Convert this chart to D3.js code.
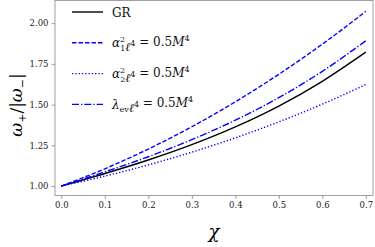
<!DOCTYPE html>
<html>
<head>
<meta charset="utf-8">
<script src="https://cdn.jsdelivr.net/npm/d3@7"></script>
<style>
  html, body { margin: 0; padding: 0; background: #fff; }
  svg { display: block; font-family: "DejaVu Serif", "Liberation Serif", serif; }
</style>
</head>
<body>
<svg id="chart" width="375" height="247"></svg>
<script>
// spin values
const chi = [0, 0.1, 0.2, 0.3, 0.4, 0.5, 0.6, 0.7];
const grVals = [1.0, 1.077, 1.160, 1.254, 1.363, 1.491, 1.643, 1.822];
const alpha1Vals = [1.0, 1.106, 1.227, 1.364, 1.517, 1.686, 1.871, 2.072];
const alpha2Vals = [1.0, 1.061, 1.130, 1.208, 1.296, 1.394, 1.503, 1.623];
const lambdaVals = [1.0, 1.087, 1.180, 1.285, 1.404, 1.543, 1.704, 1.892];
const xTicks = [0, 0.1, 0.2, 0.3, 0.4, 0.5, 0.6, 0.7];
const yTicks = [1.0, 1.25, 1.5, 1.75, 2.0];

const series = [
  { key: 'gr', vals: grVals, color: '#000', dash: null },
  { key: 'a1', vals: alpha1Vals, color: '#0000ff', dash: '4.5,2' },
  { key: 'a2', vals: alpha2Vals, color: '#0000ff', dash: '1.3,2' },
  { key: 'lam', vals: lambdaVals, color: '#0000ff', dash: '7,2,1.3,2' }
];

const svg = d3.select('#chart');
const margin = { left: 55, right: 2, top: 0.5, bottom: 51.5 };
const W = 375, H = 247;

const x = d3.scaleLinear().domain([-0.0145, 0.7165]).range([margin.left, W - margin.right]);
const y = d3.scaleLinear().domain([0.942, 2.139]).range([H - margin.bottom, margin.top]);

// frame
svg.append('rect')
  .attr('x', margin.left).attr('y', margin.top)
  .attr('width', W - margin.right - margin.left)
  .attr('height', H - margin.bottom - margin.top)
  .attr('fill', 'none').attr('stroke', '#888').attr('stroke-width', 0.8);

// axes
const xAxis = svg.append('g')
  .attr('transform', `translate(0,${H - margin.bottom})`)
  .call(d3.axisBottom(x).tickValues(xTicks).tickFormat(d3.format('.1f')).tickSize(3.5).tickPadding(3));
const yAxis = svg.append('g')
  .attr('transform', `translate(${margin.left},0)`)
  .call(d3.axisLeft(y).tickValues(yTicks).tickFormat(d3.format('.2f')).tickSize(3.5).tickPadding(3));

[xAxis, yAxis].forEach(a => {
  a.select('.domain').remove();
  a.selectAll('line').attr('stroke', '#888').attr('stroke-width', 0.8);
  a.selectAll('text').attr('fill', '#222')
    .style('font-family', '"DejaVu Serif", serif').style('font-size', '8.5px');
});

// curves
const line = d3.line()
  .x((d, i) => x(chi[i]))
  .y(d => y(d))
  .curve(d3.curveMonotoneX);

series.forEach(s => {
  svg.append('path')
    .datum(s.vals)
    .attr('d', line)
    .attr('fill', 'none')
    .attr('stroke', s.color)
    .attr('stroke-width', 1.4)
    .attr('stroke-dasharray', s.dash);
});

// legend
const legend = svg.append('g').attr('transform', 'translate(72,12)');
const rowGap = 30.8;
const labels = [
  [['GR', 0]],
  [['α', 0, 'italic'], ['2', -5, null, '1'], ['ℓ', 0, 'italic'], ['4', -5], [' = 0.5', 0], ['M', 0, 'italic'], ['4', -5]],
  [['α', 0, 'italic'], ['2', -5, null, '2'], ['ℓ', 0, 'italic'], ['4', -5], [' = 0.5', 0], ['M', 0, 'italic'], ['4', -5]],
  [['λ', 0, 'italic'], ['ev', 3], ['ℓ', 0, 'italic'], ['4', -5], [' = 0.5', 0], ['M', 0, 'italic'], ['4', -5]]
];

series.forEach((s, i) => {
  const row = legend.append('g').attr('transform', `translate(0,${i * rowGap})`);
  row.append('line')
    .attr('x1', 0).attr('x2', 31).attr('y1', 0).attr('y2', 0)
    .attr('stroke', s.color).attr('stroke-width', 1.4)
    .attr('stroke-dasharray', s.dash);
  const t = row.append('text')
    .attr('x', 40).attr('y', 4.5)
    .style('font-family', '"DejaVu Serif", serif')
    .style('font-size', '12px').attr('fill', '#111');
  labels[i].forEach(part => {
    const [txt, dy, style, sub] = part;
    if (sub) {
      // stacked super/subscript
      t.append('tspan').attr('dy', -5).style('font-size', '8px').text(txt);
      t.append('tspan').attr('dx', -5).attr('dy', 9).style('font-size', '8px').text(sub);
      t.append('tspan').attr('dy', -4).text('');
      return;
    }
    const ts = t.append('tspan').text(txt);
    if (style) ts.style('font-style', style);
    if (dy !== 0) {
      ts.attr('dy', dy).style('font-size', '8px');
      t.append('tspan').attr('dy', -dy).text('');
    }
  });
});

// axis labels
svg.append('text')
  .attr('transform', 'translate(22,105) rotate(-90)')
  .attr('text-anchor', 'middle')
  .style('font-family', '"DejaVu Serif", serif')
  .style('font-size', '17px')
  .each(function() {
    const t = d3.select(this);
    t.append('tspan').style('font-style', 'italic').text('ω');
    t.append('tspan').attr('dy', 4).style('font-size', '11px').text('+');
    t.append('tspan').attr('dy', -4).text('/|');
    t.append('tspan').style('font-style', 'italic').text('ω');
    t.append('tspan').attr('dy', 4).style('font-size', '11px').text('−');
    t.append('tspan').attr('dy', -4).text('|');
  });

svg.append('text')
  .attr('x', (margin.left + W - margin.right) / 2)
  .attr('y', 238)
  .attr('text-anchor', 'middle')
  .style('font-family', '"DejaVu Serif", serif')
  .style('font-size', '18px')
  .style('font-style', 'italic')
  .text('χ');
</script>
</body>
</html>
